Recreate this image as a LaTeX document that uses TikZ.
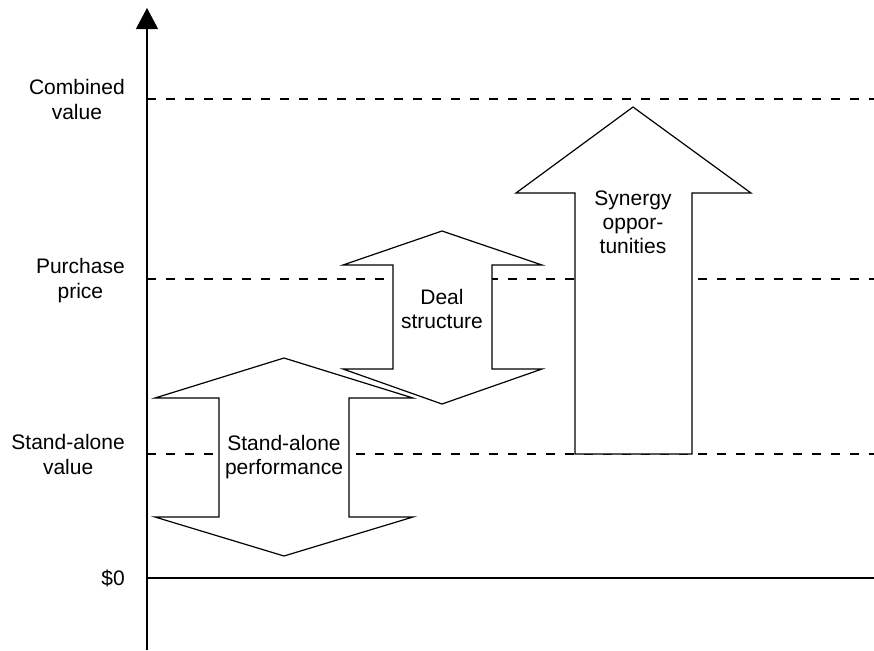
\documentclass[tikz,border=0pt]{standalone}
\usepackage{fontspec}
\setmainfont{Liberation Sans}
\usetikzlibrary{arrows.meta}

\begin{document}
\begin{tikzpicture}[x=0.5pt, y=-0.5pt, line width=0.6pt, >={Triangle[length=10.5pt, width=11pt]},
  level/.style={dash pattern=on 4.5pt off 5pt, line width=0.6pt},
  tick/.style={anchor=east, align=center, font=\fontsize{10.5}{12.5}\selectfont},
  body/.style={draw, fill=white, line join=miter},
  caption/.style={align=center, font=\fontsize{10.5}{12}\selectfont}]
  \useasboundingbox (0,0) rectangle (874,650);

  % axis
  \coordinate (o)   at (147,650);
  \coordinate (top) at (147,8);
  \draw[->] (o) -- (top);

  % value levels
  \coordinate (comb0)  at (147,99);  \coordinate (comb1)  at (874,99);
  \coordinate (price0) at (147,279); \coordinate (price1) at (874,279);
  \coordinate (alone0) at (147,454); \coordinate (alone1) at (874,454);
  \coordinate (zero0)  at (147,578); \coordinate (zero1)  at (874,578);
  \draw[level] (comb0) -- (comb1);
  \draw[level] (price0) -- (price1);
  \draw[level] (alone0) -- (alone1);
  \draw (zero0) -- (zero1);

  \node[tick] (comb)  at (132,99)  {Combined\\value};
  \node[tick] (price) at (132,281) {Purchase\\price};
  \node[tick] (alone) at (132,454) {Stand-alone\\value};
  \node[tick] (zero)  at (132,578) {\$0};

  % arrows
  \draw[body] (284,358) -- (413,398) -- (349,398) -- (349,517) -- (413,517) -- (284,556)
    -- (155,517) -- (219,517) -- (219,398) -- (155,398) -- cycle;
  \draw[body] (442,231) -- (542,265) -- (492,265) -- (492,369) -- (542,369) -- (442,404)
    -- (343,369) -- (393,369) -- (393,265) -- (343,265) -- cycle;
  \draw[body] (633,107) -- (751,193) -- (692,193) -- (692,454) -- (575,454) -- (575,193)
    -- (516,193) -- cycle;

  \node[caption] (perf)    at (284,457) {Stand-alone\\performance};
  \node[caption] (deal)    at (442,309) {Deal\\structure};
  \node[caption] (synergy) at (633,222) {Synergy\\oppor-\\tunities};
\end{tikzpicture}
\end{document}
